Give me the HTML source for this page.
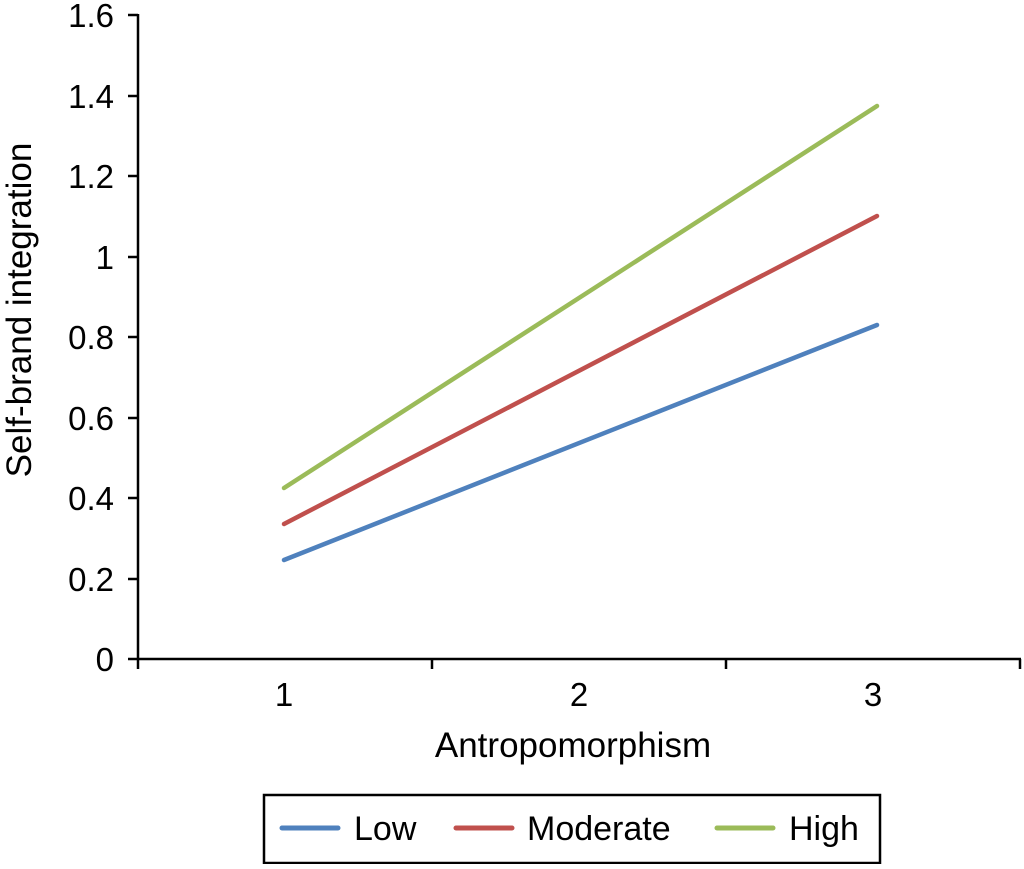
<!DOCTYPE html>
<html><head><style>body{margin:0;background:#fff}</style></head><body>
<svg width="1024" height="864" xmlns="http://www.w3.org/2000/svg" font-family="Liberation Sans, sans-serif" fill="#000">
<g stroke="#000" stroke-width="2.5">
<line x1="138" y1="14" x2="138" y2="660"/>
<line x1="128" y1="659" x2="1021" y2="659"/>
<line x1="128" y1="579" x2="138" y2="579"/>
<line x1="128" y1="498" x2="138" y2="498"/>
<line x1="128" y1="418" x2="138" y2="418"/>
<line x1="128" y1="337" x2="138" y2="337"/>
<line x1="128" y1="257" x2="138" y2="257"/>
<line x1="128" y1="176" x2="138" y2="176"/>
<line x1="128" y1="96" x2="138" y2="96"/>
<line x1="128" y1="15" x2="138" y2="15"/>
<line x1="138" y1="659" x2="138" y2="669"/>
<line x1="432" y1="659" x2="432" y2="669"/>
<line x1="726" y1="659" x2="726" y2="669"/>
<line x1="1020" y1="659" x2="1020" y2="669"/>
</g>
<g font-size="33" text-anchor="end">
<text x="114" y="671">0</text><text x="114" y="591">0.2</text><text x="114" y="510">0.4</text>
<text x="114" y="430">0.6</text><text x="114" y="349">0.8</text><text x="114" y="269">1</text>
<text x="114" y="188">1.2</text><text x="114" y="108">1.4</text><text x="114" y="27">1.6</text>
</g>
<g font-size="33" text-anchor="middle">
<text x="284" y="706">1</text><text x="579" y="706">2</text><text x="873" y="706">3</text>
<text x="573" y="757" font-size="35">Antropomorphism</text>
<text transform="translate(31,310) rotate(-90)" font-size="35">Self-brand integration</text>
</g>
<g stroke-width="4.5" stroke-linecap="round" fill="none">
<line x1="284" y1="560" x2="877" y2="325" stroke="#4f81bd"/>
<line x1="284" y1="524" x2="877" y2="216" stroke="#c0504d"/>
<line x1="284" y1="488" x2="877" y2="106" stroke="#9bbb59"/>
</g>
<rect x="264" y="795" width="616" height="68" fill="none" stroke="#000" stroke-width="2.5"/>
<g stroke-width="5" stroke-linecap="round">
<line x1="282" y1="828" x2="338" y2="828" stroke="#4f81bd"/>
<line x1="456" y1="828" x2="512" y2="828" stroke="#c0504d"/>
<line x1="717" y1="828" x2="773" y2="828" stroke="#9bbb59"/>
</g>
<g font-size="34">
<text x="354" y="840">Low</text><text x="527" y="840">Moderate</text><text x="789" y="840">High</text>
</g>
</svg>
</body></html>
